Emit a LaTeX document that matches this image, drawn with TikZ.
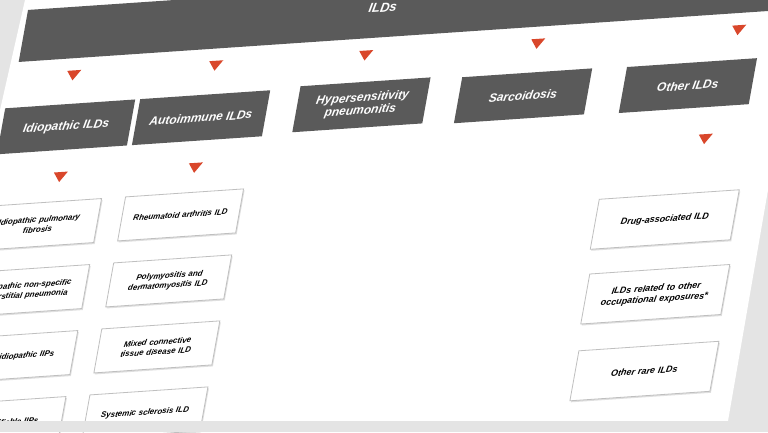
\documentclass[tikz,border=0pt]{standalone}
\usepackage{fontspec}
\setmainfont{Liberation Sans}
\usetikzlibrary{shapes.geometric,shadows}
\definecolor{hdr}{HTML}{5A5A5A}
\definecolor{tri}{HTML}{D9472B}
\definecolor{bg}{HTML}{E4E4E4}
\tikzset{
  hbox/.style={fill=hdr,text=white,font=\bfseries\itshape\fontsize{12}{13}\selectfont,minimum width=130pt,minimum height=46pt,align=center,inner sep=2pt},
  sbox/.style={fill=white,draw=black!25,line width=0.8pt,font=\bfseries\itshape\fontsize{8}{10}\selectfont,minimum width=118pt,minimum height=44pt,align=center,text width=105pt,drop shadow={opacity=0.25,shadow xshift=1pt,shadow yshift=-1.5pt}},
  obox/.style={sbox,font=\bfseries\itshape\fontsize{9}{11}\selectfont,minimum width=140pt,minimum height=50pt,text width=130pt},
  arr/.style={isosceles triangle,shape border rotate=-90,fill=tri,minimum width=14pt,minimum height=10pt,inner sep=0pt,isosceles triangle apex angle=70}
}
\begin{document}
\begin{tikzpicture}[x=1pt,y=1pt]
\useasboundingbox (0,0) rectangle (768,-432);
\fill[bg] (0,0) rectangle (768,-432);
\fill[white] (25,0) -- (768,0) -- (768,-190) -- (728,-421) -- (0,-421) -- (0,-110) -- cycle;
\begin{scope}[cm={1,0.068,0.18,1,(0,0)},transform shape]
\node[hbox,minimum width=780pt,minimum height=52pt,anchor=west] (top) at (30,-38) {};
\node[text=white,font=\bfseries\itshape\fontsize{13}{14}\selectfont] (toptxt) at (389,-34) {ILDs};
\node[hbox] (b1) at (90,-133) {Idiopathic ILDs};
\node[hbox] (b2) at (225,-133) {Autoimmune ILDs};
\node[hbox] (b3) at (385,-131) {Hypersensitivity\\pneumonitis};
\node[hbox] (b4) at (547,-133) {Sarcoidosis};
\node[hbox] (b5) at (712,-134) {Other ILDs};
\foreach \i/\u in {1/88,2/230,3/380,4/552,5/753}{
  \node[arr] (t\i) at (\u,-80) {};}
\node[arr] (s1) at (93,-182) {};
\node[arr] (s2) at (228,-182) {};
\node[arr] (s5) at (739,-188) {};
\node[sbox] (i1) at (80,-230) {Idiopathic pulmonary\\fibrosis};
\node[sbox] (i2) at (80,-296) {Idiopathic non-specific\\interstitial pneumonia};
\node[sbox] (i3) at (80,-362) {Other idiopathic IIPs};
\node[sbox] (i4) at (80,-428) {Unclassifiable IIPs};
\node[sbox] (a1) at (222,-230) {Rheumatoid arthritis ILD};
\node[sbox] (a2) at (222,-296) {Polymyositis and\\dermatomyositis ILD};
\node[sbox] (a3) at (222,-362) {Mixed connective\\tissue disease ILD};
\node[sbox] (a4) at (222,-428) {Systemic sclerosis ILD};
\node[obox] (o1) at (713,-268) {Drug-associated ILD};
\node[obox] (o2) at (717,-343) {ILDs related to other\\occupational exposures*};
\node[obox] (o3) at (720,-420) {Other rare ILDs};
\end{scope}
\fill[bg] (0,-421) rectangle (768,-432);
\end{tikzpicture}
\end{document}
